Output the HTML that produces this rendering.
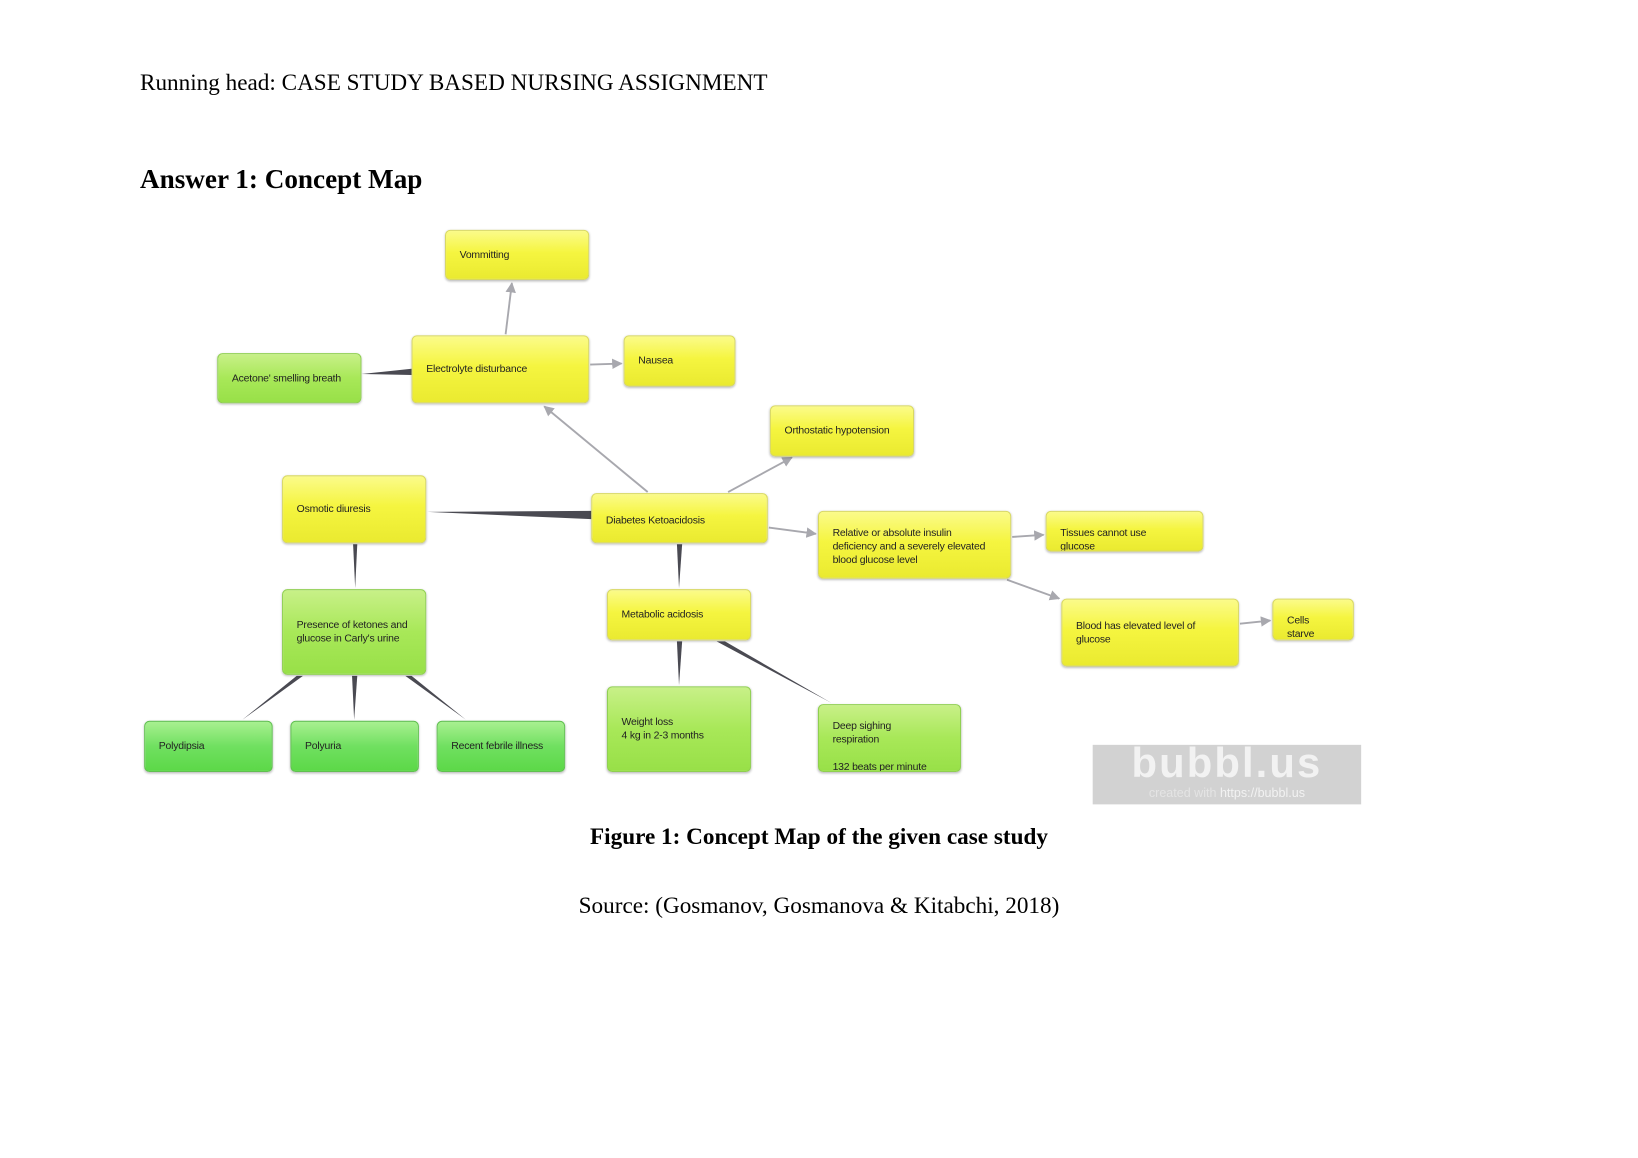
<!DOCTYPE html>
<html><head><meta charset="utf-8"><style>
html,body{margin:0;padding:0;background:#fff;width:1638px;height:1158px;overflow:hidden}
#w{position:absolute;left:0;top:0;width:1568px;height:1108px;transform:scale(1.04464);transform-origin:0 0}
.t{position:absolute;font-family:"Liberation Serif",serif;color:#000;white-space:nowrap}
.b{position:absolute;box-sizing:border-box;border-radius:5px;font-family:"Liberation Sans",sans-serif;font-size:10px;letter-spacing:-0.2px;line-height:13px;color:#222;padding-left:13px;display:flex;align-items:center;box-shadow:0 1px 2px rgba(0,0,0,.25)}
.y{background:linear-gradient(#fbfb8a,#f5f540 45%,#eaea30);border:1px solid #d8d860}
.g{background:linear-gradient(#c8f088,#a8e858 50%,#98e048);border:1px solid #8fcf50}
.gg{background:linear-gradient(#a8f090,#70e060 50%,#5cd848);border:1px solid #60c050}
svg{position:absolute;left:0;top:0}
</style></head><body><div id="w">
<div class="t" style="left:134px;top:66px;font-size:22.2px">Running head: CASE STUDY BASED NURSING ASSIGNMENT</div>
<div class="t" style="left:134px;top:157px;font-size:26px;font-weight:bold">Answer 1: Concept Map</div>
<svg width="1568" height="1108">
<defs><marker id="a" markerWidth="10" markerHeight="10" refX="9" refY="5" orient="auto" markerUnits="userSpaceOnUse"><path d="M0,0 L10,5 L0,10z" fill="#a8a8ae"/></marker></defs>
<g stroke="#a8a8ae" stroke-width="1.8" fill="none" marker-end="url(#a)">
<line x1="484" y1="320" x2="490" y2="271"/>
<line x1="565" y1="349" x2="595" y2="348"/>
<line x1="620" y1="471" x2="521" y2="389"/>
<line x1="697" y1="471" x2="758" y2="438"/>
<line x1="736" y1="505" x2="781" y2="511"/>
<line x1="969" y1="514" x2="999" y2="512"/>
<line x1="964" y1="555" x2="1014" y2="573"/>
<line x1="1187" y1="597" x2="1216" y2="594"/>
</g>
<g fill="#4a4a52">
<polygon points="346,358 394,353 394,359"/>
<polygon points="409,490 566,489 566,497"/>
<polygon points="338,521 342,521 340,563"/>
<polygon points="648,521 653,521 650,563"/>
<polygon points="648,614 653,614 650,656"/>
<polygon points="686,614 694,614 796,673"/>
<polygon points="284,647 290,647 232,689"/>
<polygon points="337,647 342,647 339,689"/>
<polygon points="388,647 394,647 446,689"/>
</g>
</svg>
<div class="b y" style="left:426px;top:220px;width:138px;height:48px">Vommitting</div>
<div class="b y" style="left:394px;top:321px;width:170px;height:65px">Electrolyte disturbance</div>
<div class="b y" style="left:597px;top:321px;width:107px;height:49px">Nausea</div>
<div class="b g" style="left:208px;top:338px;width:138px;height:48px">Acetone' smelling breath</div>
<div class="b y" style="left:737px;top:388px;width:138px;height:49px">Orthostatic hypotension</div>
<div class="b y" style="left:270px;top:455px;width:138px;height:65px">Osmotic diuresis</div>
<div class="b y" style="left:566px;top:472px;width:169px;height:48px;padding-top:4px">Diabetes Ketoacidosis</div>
<div class="b y" style="left:783px;top:489px;width:185px;height:65px;align-items:flex-start;padding-top:14px">Relative or absolute insulin<br>deficiency and a severely elevated<br>blood glucose level</div>
<div class="b y" style="left:1001px;top:489px;width:151px;height:39px;align-items:flex-start;padding-top:14px;overflow:hidden">Tissues cannot use<br>glucose</div>
<div class="b y" style="left:1016px;top:573px;width:170px;height:65px">Blood has elevated level of<br>glucose</div>
<div class="b y" style="left:1218px;top:573px;width:78px;height:40px;align-items:flex-start;padding-top:14px;overflow:hidden">Cells<br>starve</div>
<div class="b g" style="left:270px;top:564px;width:138px;height:82px">Presence of ketones and<br>glucose in Carly's urine</div>
<div class="b y" style="left:581px;top:564px;width:138px;height:49px">Metabolic acidosis</div>
<div class="b g" style="left:581px;top:657px;width:138px;height:82px">Weight loss<br>4 kg in 2-3 months</div>
<div class="b g" style="left:783px;top:674px;width:137px;height:65px;align-items:flex-start;padding-top:14px;overflow:hidden">Deep sighing<br>respiration<br><br>132 beats per minute</div>
<div class="b gg" style="left:138px;top:690px;width:123px;height:49px">Polydipsia</div>
<div class="b gg" style="left:278px;top:690px;width:123px;height:49px">Polyuria</div>
<div class="b gg" style="left:418px;top:690px;width:123px;height:49px">Recent febrile illness</div>
<div style="position:absolute;left:1046px;top:713px;width:257px;height:57px;background:#d2d2d2;font-family:'Liberation Sans',sans-serif;text-align:center;color:#f2f2f2">
<div style="font-size:40px;font-weight:bold;line-height:40px;letter-spacing:2px;margin-top:-2px">bubbl.us</div>
<div style="font-size:12px;line-height:14px;margin-top:1px"><span style="color:#e4e4e4">created with</span> https://bubbl.us</div>
</div>
<div class="t" style="left:0;width:1568px;text-align:center;top:788px;font-size:22.2px;font-weight:bold">Figure 1: Concept Map of the given case study</div>
<div class="t" style="left:0;width:1568px;text-align:center;top:854px;font-size:22.2px">Source: (Gosmanov, Gosmanova &amp; Kitabchi, 2018)</div>
</div></body></html>
